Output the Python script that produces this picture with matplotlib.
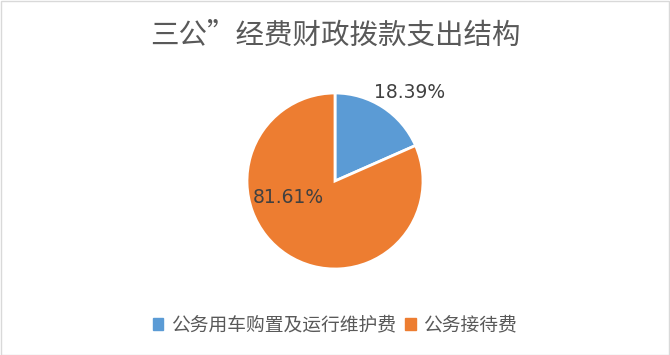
import matplotlib.pyplot as plt
from matplotlib.patches import Rectangle

plt.rcParams['font.family'] = ['Noto Sans CJK SC', 'DejaVu Sans']

# 数据
categories = ['公务用车购置及运行维护费', '公务接待费']
shares = [18.39, 81.61]
colors = ['#5B9BD5', '#ED7D31']
title = '三公”经费财政拨款支出结构'

W, H = 670, 355
fig = plt.figure(figsize=(W / 100, H / 100), dpi=100)
fig.patches.append(Rectangle((0.5 / W, 0.5 / H), 1 - 1.5 / W, 1 - 1.5 / H,
                             transform=fig.transFigure, fill=False,
                             edgecolor='#D9D9D9', linewidth=1))

# pie centre (335,181) px, radius 88 px
cx, cy, r = 335, H - 181, 88
ax = fig.add_axes([(cx - 1.5 * r) / W, (cy - 1.5 * r) / H, 3 * r / W, 3 * r / H])
wedges, texts, autotexts = ax.pie(shares, colors=colors, startangle=90, counterclock=False,
                                  autopct='%.2f%%', radius=1,
                                  wedgeprops=dict(edgecolor='white', linewidth=2),
                                  textprops=dict(fontsize=13.5, color='#404040',
                                                 family='DejaVu Sans'))
ax.set_xlim(-1.5, 1.5)
ax.set_ylim(-1.5, 1.5)
ax.axis('off')
label_pos = [(0.85, 1.01), (-0.53, -0.19)]
for t, p in zip(autotexts, label_pos):
    t.set_position(p)
    t.set_ha('center')
    t.set_va('center')

fig.text(0.5, (H - 36) / H, title, ha='center', va='center',
         fontsize=20.5, color='#595959')

handles = [Rectangle((0, 0), 1, 1, color=c) for c in colors]
fig.legend(handles, categories, loc='center', bbox_to_anchor=(0.5, (H - 325) / H),
           ncol=2, frameon=False, fontsize=13.5, labelcolor='#595959',
           handlelength=0.55, handleheight=0.55, handletextpad=0.4, columnspacing=0.5)

fig.savefig('out.png', dpi=100, facecolor='white')
